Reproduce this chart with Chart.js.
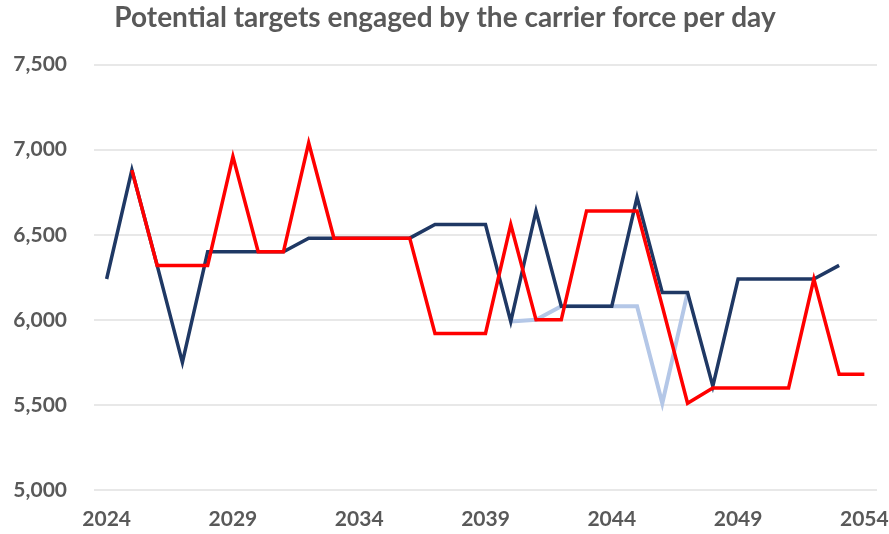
<!DOCTYPE html>
<html>
<head>
<meta charset="utf-8">
<script src="https://cdn.jsdelivr.net/npm/chart.js@4"></script>
<style>
body { margin: 0; background: #fff; }
</style>
</head>
<body>
<canvas id="chart" width="889" height="534"></canvas>
<script>
var years = [];
for (var y = 2024; y <= 2054; y++) years.push(String(y));

var fleetA = [6240, 6880, 6320, 5750, 6400, 6400, 6400, 6400, 6480, 6480,
	6480, 6480, 6480, 6560, 6560, 6560, 5990, 6640, 6080, 6080,
	6080, 6720, 6160, 6160, 5610, 6240, 6240, 6240, 6240, 6320, null];

var fleetB = [null, null, null, null, null, null, null, null, null, null,
	null, null, null, null, null, null, 5990, 6000, 6080, 6080,
	6080, 6080, 5510, 6160, null, null, null, null, null, null, null];

var fleetC = [null, 6880, 6320, 6320, 6320, 6960, 6400, 6400, 7040, 6480,
	6480, 6480, 6480, 5920, 5920, 5920, 6560, 6000, 6000, 6640,
	6640, 6640, 6080, 5510, 5600, 5600, 5600, 5600, 6240, 5680, 5680];

var grey = '#595959';

function generateLineChart(elem) {
	var ctx = document.getElementById(elem);
	var myChart = new Chart(ctx, {
		type: 'line',
		data: {
			labels: years,
			datasets: [
				{ data: fleetC, borderColor: '#ff0000', borderWidth: 3.5, order: 1 },
				{ data: fleetA, borderColor: '#1f3864', borderWidth: 3.5, order: 2 },
				{ data: fleetB, borderColor: '#b4c7e7', borderWidth: 4, order: 3 }
			]
		},
		options: {
			responsive: false,
			animation: false,
			elements: { point: { radius: 0 }, line: { tension: 0 } },
			layout: { padding: { left: 13, right: 12, top: 0, bottom: 2 } },
			plugins: {
				legend: { display: false },
				tooltip: { enabled: false },
				title: {
					display: true,
					text: 'Potential targets engaged by the carrier force per day',
					color: grey,
					font: { family: 'Lato', size: 28, weight: 'bold' },
					padding: { top: 1, bottom: 30 }
				}
			},
			scales: {
				x: {
					offset: true,
					grid: { display: false },
					border: { display: false },
					afterFit: function (s) { s.height = 42; s.paddingLeft = 0; s.paddingRight = 0; },
					ticks: {
						autoSkip: false,
						maxRotation: 0,
						color: grey,
						font: { family: 'Lato', size: 21, weight: 'bold' },
						padding: 9,
						callback: function (v, i) { return i % 5 === 0 ? years[i] : ''; }
					}
				},
				y: {
					min: 5000,
					max: 7500,
					grid: { color: '#e8e8e8', lineWidth: 2, drawTicks: false },
					border: { display: false },
					afterFit: function (s) { s.width = 81; },
					ticks: {
						stepSize: 500,
						color: grey,
						font: { family: 'Lato', size: 21, weight: 'bold' },
						padding: 27
					}
				}
			}
		}
	});
}

generateLineChart('chart');
</script>
</body>
</html>
